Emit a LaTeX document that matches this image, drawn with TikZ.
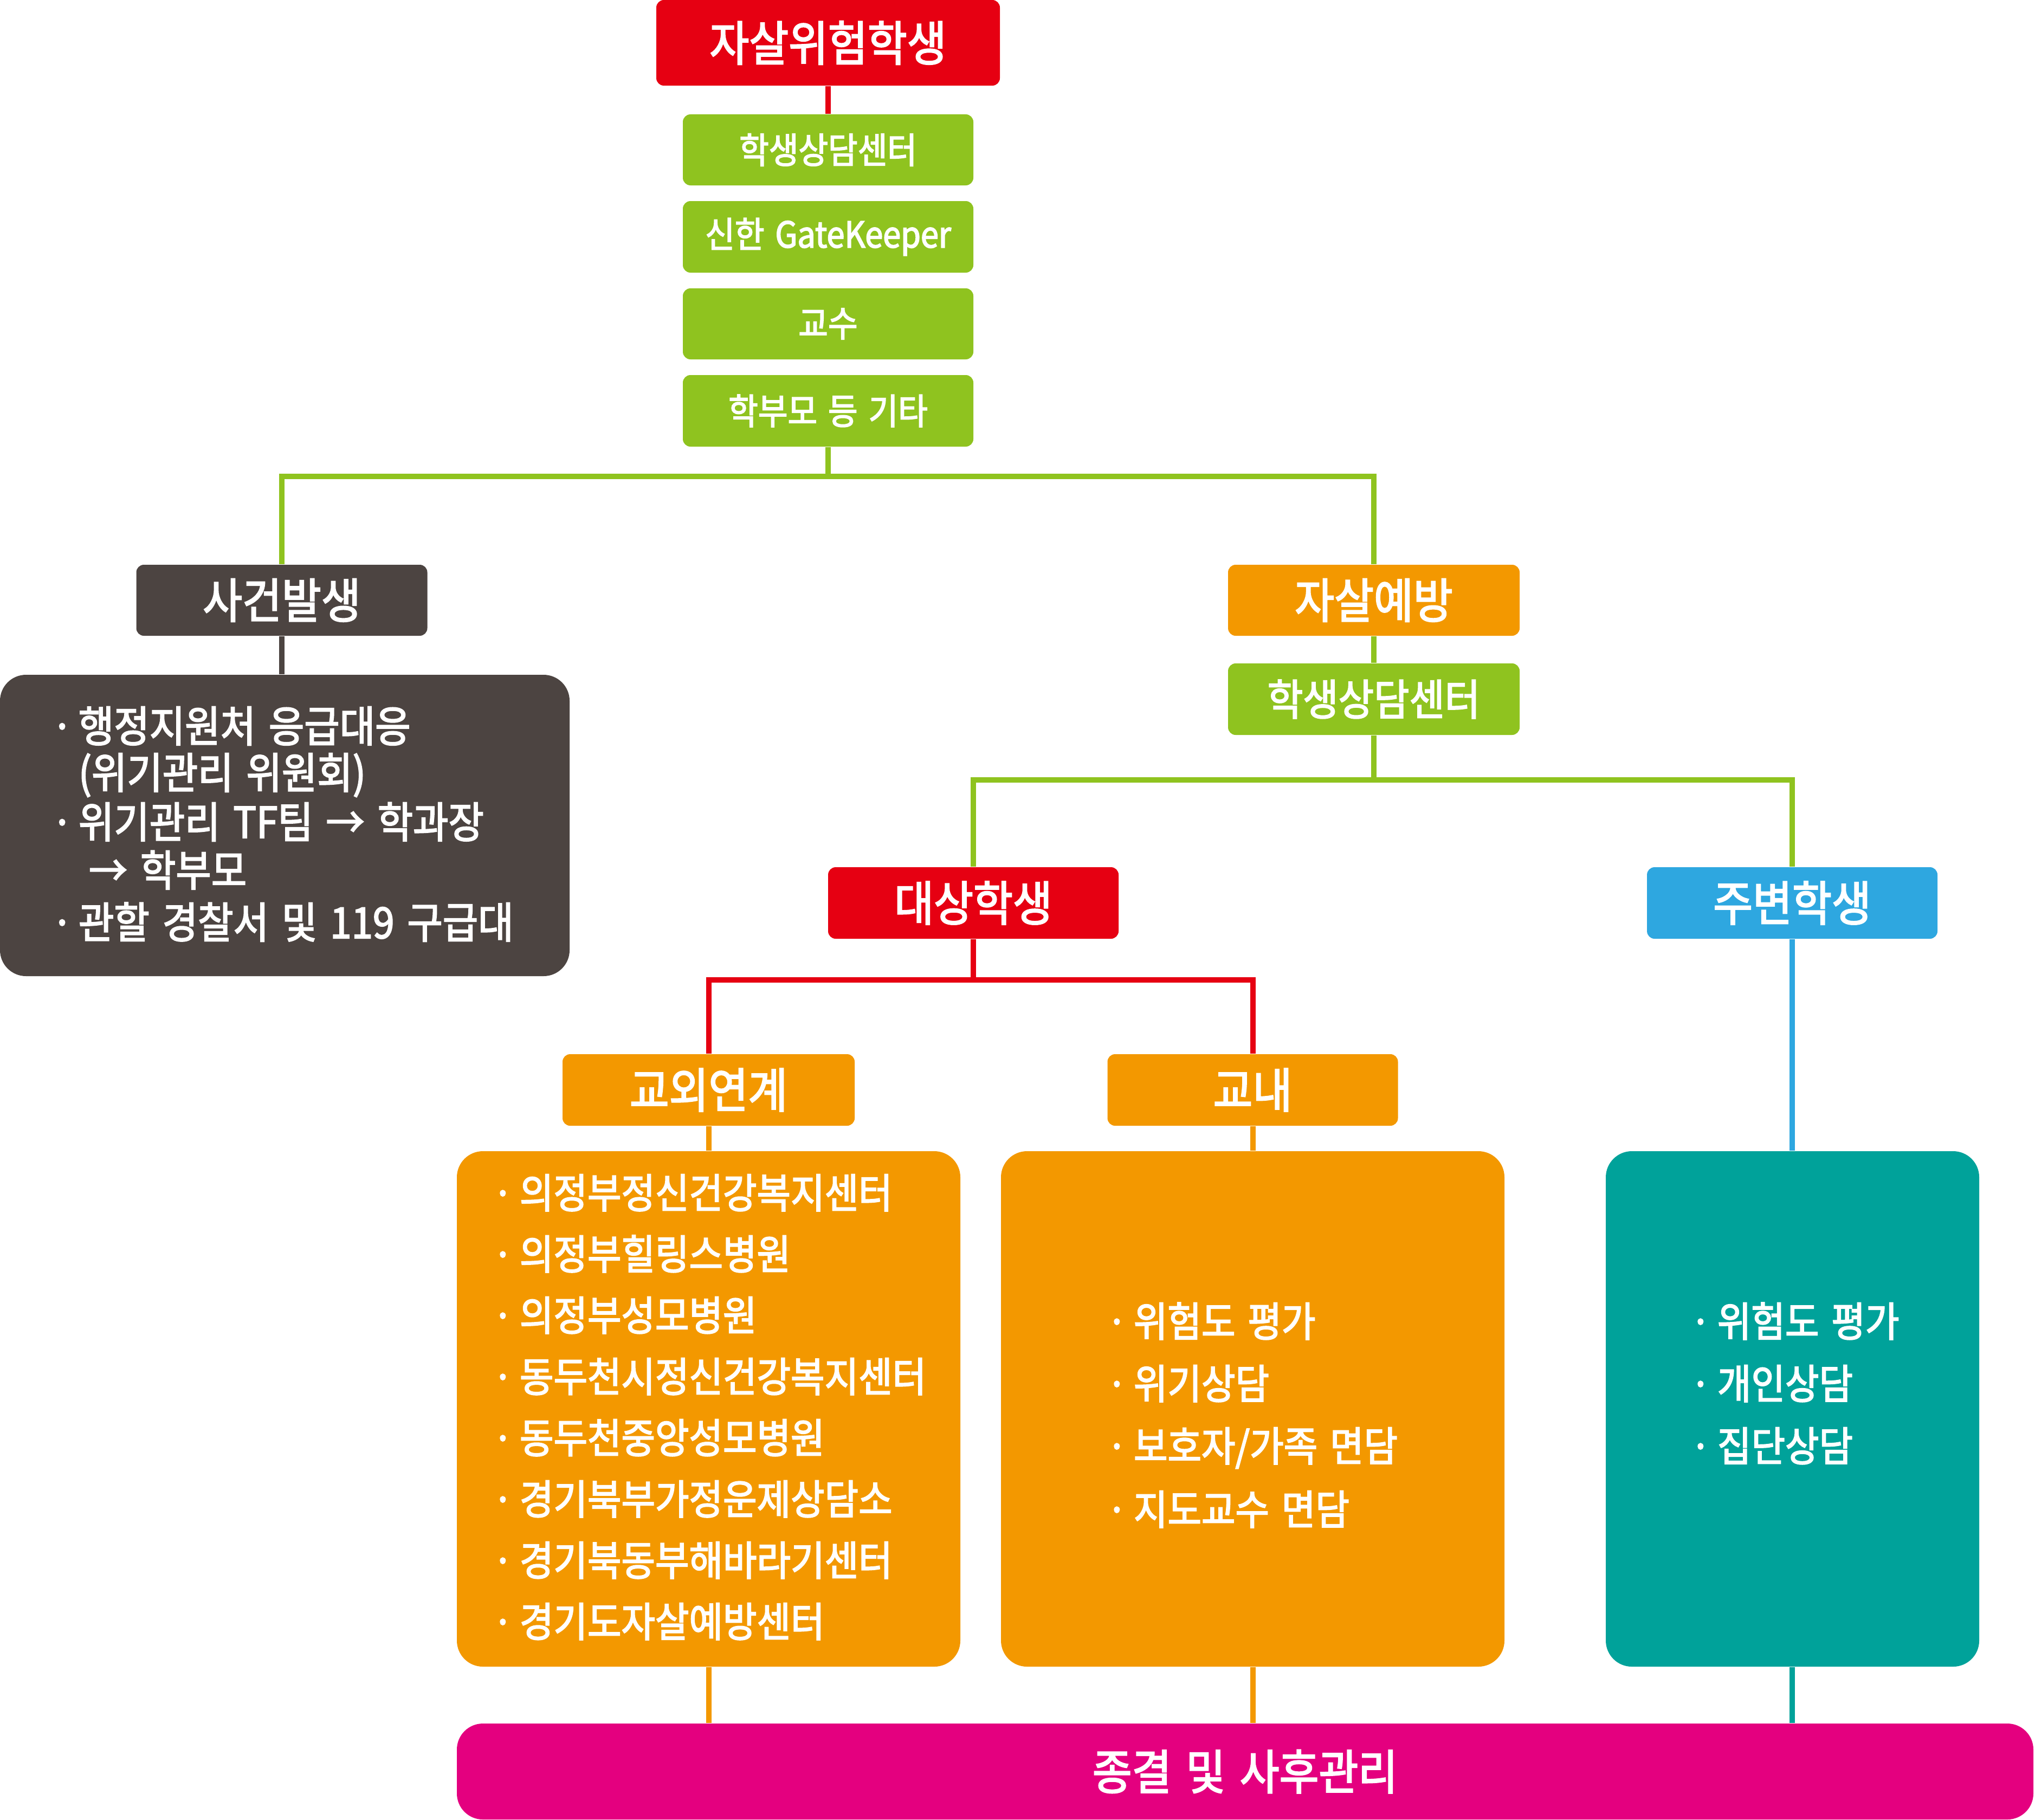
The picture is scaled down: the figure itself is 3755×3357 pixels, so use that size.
\documentclass[tikz,border=0pt]{standalone}
\usepackage{fontspec}
\newfontfamily\kr{Noto Sans CJK KR}[FakeStretch=0.9, WordSpace=1.5, FakeBold=2.6]
\definecolor{cRed}{HTML}{E60012}
\definecolor{cGreen}{HTML}{8FC31F}
\definecolor{cDark}{HTML}{4C4441}
\definecolor{cOrange}{HTML}{F39800}
\definecolor{cBlue}{HTML}{2EA7E0}
\definecolor{cTeal}{HTML}{00A29A}
\definecolor{cMag}{HTML}{E4007F}
\tikzset{
  box/.style={rectangle, rounded corners=2.8pt, inner sep=0pt, text=white,
    font=\kr\fontsize{17.6pt}{20pt}\selectfont},
  wh/.style 2 args={minimum width=#1*0.2pt, minimum height=#2*0.2pt},
  smalltxt/.style={font=\kr\fontsize{13.2pt}{15pt}\selectfont},
  midtxt/.style={font=\kr\fontsize{15.8pt}{18pt}\selectfont},
  bigbox/.style={rectangle, rounded corners=9.6pt, inner sep=0pt},
  item/.style={anchor=base west, inner sep=0pt, text=white,
    font=\kr\fontsize{15.1pt}{18pt}\selectfont},
  ditem/.style={item, font=\kr\fontsize{15.8pt}{18pt}\selectfont},
  link/.style={line width=2pt},
}
\newcommand{\bul}{\llap{\makebox[10pt][l]{·}}}
\begin{document}
\begin{tikzpicture}[x=0.2pt,y=-0.2pt]
\useasboundingbox (0,0) rectangle (3755,3357);

% top
\node[box, fill=cRed, wh={634}{158}] (top) at (1528,79) {자살위험학생};
\node[box, smalltxt, fill=cGreen, wh={536}{131}] (g1) at (1528,276.5) {학생상담센터};
\node[box, smalltxt, fill=cGreen, wh={536}{132}] (g2) at (1528,437) {신한 GateKeeper};
\node[box, smalltxt, fill=cGreen, wh={536}{131}] (g3) at (1528,597.5) {교수};
\node[box, smalltxt, fill=cGreen, wh={536}{132}] (g4) at (1528,758) {학부모 등 기타};
\coordinate (h1) at (1528,879);

% left branch
\node[box, fill=cDark, wh={537}{131}] (sg) at (520,1107.5) {사건발생};
\node[bigbox, fill=cDark, wh={1051}{556}] (db) at (525.5,1523) {};
\node[ditem] (d1) at (144,1369) {\bul 행정지원처 응급대응};
\node[ditem] (d2) at (144,1455) {(위기관리 위원회)};
\node[ditem] (d3) at (144,1546) {\bul 위기관리 TF팀 → 학과장};
\node[ditem] (d4) at (163,1635) {→ 학부모};
\node[ditem] (d5) at (144,1731) {\bul 관할 경찰서 및 119 구급대};

% right branch
\node[box, fill=cOrange, wh={538}{131}] (pv) at (2535,1107.5) {자살예방};
\node[box, midtxt, fill=cGreen, wh={538}{132}] (sc) at (2535,1290) {학생상담센터};
\coordinate (h2) at (2535,1439);
\node[box, fill=cRed, wh={536}{132}] (ds) at (1796,1666) {대상학생};
\node[box, fill=cBlue, wh={536}{132}] (js) at (3307,1666) {주변학생};
\coordinate (h3) at (1796,1808);
\node[box, fill=cOrange, wh={539}{132}] (gy) at (1307.5,2011) {교외연계};
\node[box, fill=cOrange, wh={536}{132}] (gn) at (2311.5,2011) {교내};

% big boxes
\node[bigbox, fill=cOrange, wh={929}{951}] (bl) at (1307.5,2599.5) {};
\node[bigbox, fill=cOrange, wh={929}{951}] (bm) at (2311.5,2599.5) {};
\node[bigbox, fill=cTeal, wh={689}{951}] (bt) at (3307.5,2599.5) {};

\node[item] (l1) at (958,2229) {\bul 의정부정신건강복지센터};
\node[item] (l2) at (958,2342) {\bul 의정부힐링스병원};
\node[item] (l3) at (958,2455) {\bul 의정부성모병원};
\node[item] (l4) at (958,2568) {\bul 동두천시정신건강복지센터};
\node[item] (l5) at (958,2681) {\bul 동두천중앙성모병원};
\node[item] (l6) at (958,2794) {\bul 경기북부가정운제상담소};
\node[item] (l7) at (958,2907) {\bul 경기북동부해바라기센터};
\node[item] (l8) at (958,3020) {\bul 경기도자살예방센터};

\node[item] (m1) at (2091,2466) {\bul 위험도 평가};
\node[item] (m2) at (2091,2581) {\bul 위기상담};
\node[item] (m3) at (2091,2696) {\bul 보호자/가족 면담};
\node[item] (m4) at (2091,2813) {\bul 지도교수 면담};

\node[item] (r1) at (3168,2466) {\bul 위험도 평가};
\node[item] (r2) at (3168,2581) {\bul 개인상담};
\node[item] (r3) at (3168,2696) {\bul 집단상담};

% bottom bar
\node[bigbox, fill=cMag, wh={2909}{177}, text=white,
  font=\kr\fontsize{17.6pt}{20pt}\selectfont] (bar) at (2297.5,3268.5) {종결 및 사후관리};

% connectors
\draw[link, cRed] (top.south) -- (g1.north);
\draw[link, cGreen] (g4.south) -- (h1);
\draw[link, cGreen] (sg.north) |- (h1) -| (pv.north);
\draw[link, cDark] (sg.south) -- (sg.south |- db.north);
\draw[link, cGreen] (pv.south) -- (sc.north);
\draw[link, cGreen] (sc.south) -- (h2);
\draw[link, cGreen] (ds.north) |- (h2) -| (js.north);
\draw[link, cRed] (ds.south) -- (h3);
\draw[link, cRed] (gy.north) |- (h3) -| (gn.north);
\draw[link, cOrange] (gy.south) -- (gy.south |- bl.north);
\draw[link, cOrange] (gn.south) -- (gn.south |- bm.north);
\draw[link, cBlue] (js.south) -- (js.south |- bt.north);
\draw[link, cOrange] (gy.south |- bl.south) -- (gy.south |- bar.north);
\draw[link, cOrange] (gn.south |- bm.south) -- (gn.south |- bar.north);
\draw[link, cTeal] (js.south |- bt.south) -- (js.south |- bar.north);
\end{tikzpicture}
\end{document}
